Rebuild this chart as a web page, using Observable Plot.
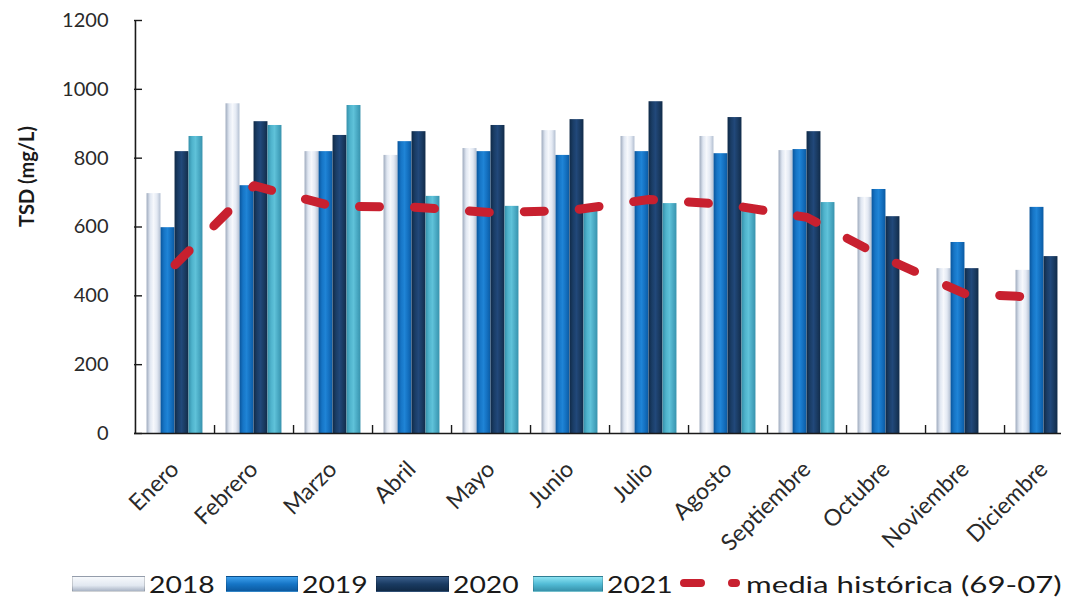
<!DOCTYPE html>
<html><head><meta charset="utf-8">
<script src="https://cdn.jsdelivr.net/npm/d3@7"></script>
<script src="https://cdn.jsdelivr.net/npm/@observablehq/plot@0.6"></script>
<style>
body{margin:0;background:#fff;font-family:Lato,"Liberation Sans",sans-serif;}
#wrap{position:relative;width:1070px;height:607px;overflow:hidden;}
#legend{position:absolute;top:560px;left:0;width:1070px;height:47px;}
.item{position:absolute;top:0;height:47px;display:flex;align-items:center;font-size:24px;color:#1a1a1a;white-space:nowrap;}
.sw{position:absolute;height:14px;top:16px;}
.lab{transform:scaleX(1.18);transform-origin:left center;display:inline-block;}
.lab2{transform:scaleX(1.3);transform-origin:left center;display:inline-block;}
</style></head><body><div id="wrap"><div id="chart"></div><div id="legend"></div></div>
<script>
const months = ["Enero","Febrero","Marzo","Abril","Mayo","Junio","Julio","Agosto","Septiembre","Octubre","Noviembre","Diciembre"];
const years = ["2018","2019","2020","2021"];
const v2018 = [697,958,819,808,828,880,863,863,822,686,479,474];
const v2019 = [598,720,819,848,819,808,819,813,825,709,555,657];
const v2020 = [819,906,866,877,895,912,964,918,877,630,479,514];
const v2021 = [863,895,953,689,660,645,668,645,671,null,null,null];
const media = [490,720,660,658,642,648,680,665,628,508,406,395];
const yTicks = [0,200,400,600,800,1000,1200];
const yTitle = "TSD (mg/L)";
const mediaLabel = "media histórica (69-07)";

const series = [v2018, v2019, v2020, v2021];
const rows = months.flatMap((m, i) => years.map((y, k) => ({month: m, year: y, value: series[k][i]})))
  .filter(d => d.value != null);
const mediaRows = months.map((m, i) => ({month: m, value: media[i]}));

const W = 1070, H = 560, mL = 134, mR = -13, mT = 20, mB = 127;
const plotW = W - mR - mL, plotH = H - mB - mT;
const bw = plotW / months.length;
const barW = 14;
const pad = (bw - years.length * barW) / 2;

const barMarks = years.map((y, k) => Plot.barY(rows.filter(d => d.year === y), {
  x: "month", y: "value", fill: `url(#g${y})`,
  insetLeft: pad + k * barW, insetRight: pad + (years.length - 1 - k) * barW
}));

const svg = Plot.plot({
  width: W, height: H,
  marginLeft: mL, marginRight: mR, marginTop: mT, marginBottom: mB,
  style: {fontFamily: "Lato, 'Liberation Sans', sans-serif", color: "#2a2a2a", background: "white", overflow: "hidden"},
  x: {domain: months, padding: 0, label: null},
  y: {domain: [0, 1200], label: null},
  marks: [
    ...barMarks,
    Plot.line(mediaRows, {x: "month", y: "value", stroke: "#c8202f", strokeWidth: 9, strokeLinecap: "round", strokeDasharray: "20,35"}),
    Plot.ruleY([0], {stroke: "#1a1a1a", strokeWidth: 1.6, insetRight: 22}),
    Plot.ruleX(months.slice(0, 1), {dx: -bw / 2, stroke: "#1a1a1a", strokeWidth: 1.6}),
    Plot.ruleY(yTicks, {stroke: "#1a1a1a", strokeWidth: 1.4, insetRight: plotW - 8}),
    Plot.ruleX(months.slice(0, months.length - 1), {dx: bw / 2, stroke: "#1a1a1a", strokeWidth: 1.4, insetTop: plotH - 8}),
    Plot.axisY({ticks: yTicks, tickFormat: d => String(d), tickSize: 0, tickPadding: 26, fontSize: 20, label: null}),
    Plot.axisX({tickSize: 0, tickPadding: 32, tickRotate: -45, fontSize: 23, label: null, dx: 0}),
    Plot.text([yTitle], {frameAnchor: "left", dx: -107, rotate: -90, fontSize: 20, fontWeight: "bold", fill: "#1a1a1a"})
  ]
});

const grads = {
  "2018": ["#9eaabd", "#dfe6f1", "#f6f8fc", "#e3e9f3", "#b3bfd1"],
  "2019": ["#0a559b", "#1675c6", "#1f84d6", "#1470c0", "#0b5aa2"],
  "2020": ["#102a47", "#1a3d66", "#21487a", "#1a3b62", "#112b49"],
  "2021": ["#3590aa", "#4fb3cc", "#5fc2d9", "#4aaac4", "#3893ad"]
};
const defs = d3.select(svg).insert("defs", ":first-child");
for (const [y, stops] of Object.entries(grads)) {
  const g = defs.append("linearGradient").attr("id", "g" + y).attr("x1", 0).attr("x2", 1).attr("y1", 0).attr("y2", 0);
  stops.forEach((c, i) => g.append("stop").attr("offset", i / (stops.length - 1)).attr("stop-color", c));
}
document.getElementById("chart").appendChild(svg);

// legend
const legend = document.getElementById("legend");
const swCss = {
  "2018": "linear-gradient(#f7f9fc,#e2e8f1 60%,#a9b4c5)",
  "2019": "linear-gradient(#3ea0ec,#1675c6 50%,#0c5aa0)",
  "2020": "linear-gradient(#3b5f8c,#1a3b62 50%,#102a47)",
  "2021": "linear-gradient(#8de3f2,#52bcd6 50%,#3792ab)"
};
const swX = [72, 226, 376, 533];
const txX = [149, 302, 453, 607];
years.forEach((y, k) => {
  const s = document.createElement("div");
  s.className = "sw";
  s.style.left = swX[k] + "px"; s.style.width = (txX[k] - swX[k] - 6) + "px";
  s.style.background = swCss[y];
  s.style.border = "1px solid rgba(0,0,0,0.15)";
  legend.appendChild(s);
  const t = document.createElement("div");
  t.className = "item"; t.style.left = txX[k] + "px";
  t.innerHTML = `<span class="lab">${y}</span>`;
  legend.appendChild(t);
});
const ls = document.createElementNS("http://www.w3.org/2000/svg", "svg");
ls.setAttribute("width", 70); ls.setAttribute("height", 47);
ls.style.position = "absolute"; ls.style.left = "676px"; ls.style.top = "0px";
ls.innerHTML = `<line x1="8" x2="60" y1="23" y2="23" stroke="#c8202f" stroke-width="8" stroke-linecap="round" stroke-dasharray="17,31"/>`;
legend.appendChild(ls);
const mt = document.createElement("div");
mt.className = "item"; mt.style.left = "746px";
mt.innerHTML = `<span class="lab2">${mediaLabel}</span>`;
legend.appendChild(mt);
</script></body></html>
